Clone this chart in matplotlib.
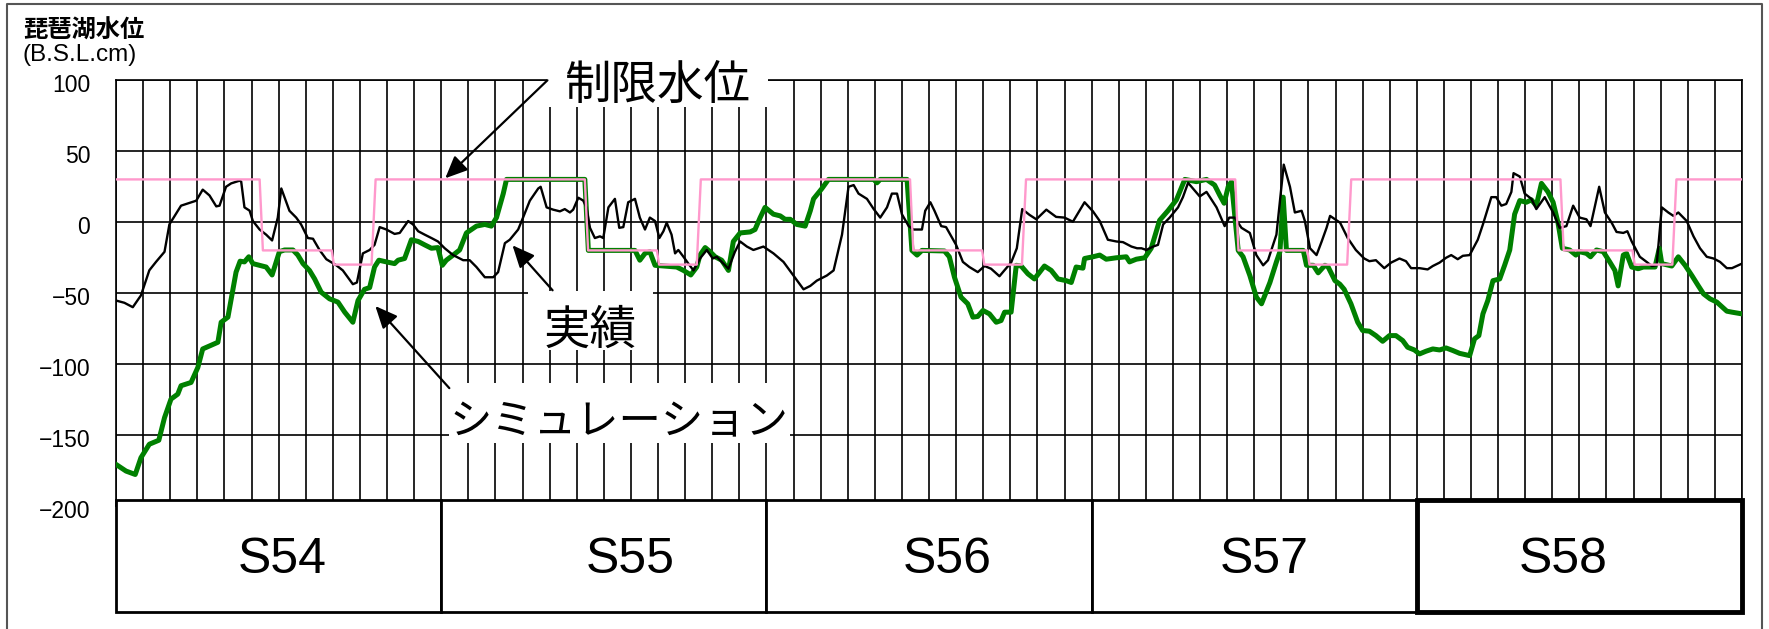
import matplotlib
matplotlib.use("Agg")
import matplotlib.pyplot as plt
from matplotlib.patches import Rectangle
from matplotlib.lines import Line2D
from matplotlib.transforms import ScaledTranslation

# months counted from Jan S54 (0) to Dec S58 (60), level in B.S.L. cm
actual_months = [
    0.00, 0.31, 0.62, 0.92, 1.23, 1.48, 1.79, 1.97, 2.40, 2.96, 3.20, 3.45, 3.70, 3.82,
    4.06, 4.25, 4.56, 4.62, 4.74, 4.93, 5.05, 5.30, 5.54, 5.76, 5.97, 6.10, 6.40, 6.65,
    6.83, 7.08, 7.27, 7.51, 7.76, 8.13, 8.37, 8.74, 8.89, 9.11, 9.36, 9.54, 9.73, 9.98,
    10.28, 10.47, 10.78, 10.96, 11.15, 11.39, 11.64, 11.88,
    12.13, 12.44, 12.81, 13.05, 13.30, 13.61, 13.92, 14.10, 14.35, 14.53, 14.84, 15.02,
    15.27, 15.58, 15.67, 15.89, 16.13, 16.38, 16.56, 16.75, 16.87, 17.06, 17.24, 17.36,
    17.49, 17.67, 17.86, 17.98, 18.17, 18.41, 18.57, 18.72, 18.90, 19.15, 19.33, 19.52,
    19.70, 19.89, 20.05, 20.20, 20.32, 20.50, 20.63, 20.75, 20.94, 21.12, 21.31, 21.55,
    21.80, 22.02, 22.17, 22.35, 22.60, 22.84, 23.03, 23.28, 23.52, 23.89,
    24.26, 24.63, 25.00, 25.37, 25.62, 25.86, 26.23, 26.48, 26.79, 27.03, 27.22, 27.40,
    27.71, 27.96, 28.20, 28.45, 28.63, 28.82, 29.00, 29.25, 29.43, 29.74, 29.86, 30.05,
    30.20, 30.45, 30.63, 31.00, 31.25, 31.49, 31.80, 32.05, 32.29, 32.60, 32.78, 33.03,
    33.24, 33.44, 33.71, 33.96, 34.33, 34.69, 35.00, 35.31, 35.74,
    36.05, 36.30, 36.60, 36.91, 37.16, 37.47, 37.68, 37.84, 38.02, 38.27, 38.45, 38.64,
    38.88, 39.19, 39.37, 39.56, 39.99, 40.24, 40.61, 40.91, 41.08, 41.28, 41.53, 41.84,
    42.08, 42.33, 42.51, 42.82, 43.09, 43.32, 43.50, 43.75, 43.87, 44.06, 44.30, 44.49,
    44.67, 44.80, 45.17, 45.45, 45.75,
    46.06, 46.25, 46.49, 46.80, 47.05, 47.36, 47.60, 47.79, 48.10, 48.40, 48.59, 48.84,
    49.08, 49.27, 49.51, 49.70, 49.95, 50.25, 50.44, 50.75, 50.93, 51.12, 51.30, 51.49,
    51.57, 51.80, 51.98, 52.23, 52.41, 52.72, 53.03, 53.27, 53.52, 53.77, 54.01, 54.26,
    54.41, 54.73, 54.94, 55.19, 55.37, 55.62, 55.77, 55.93, 56.23, 56.48, 56.67, 56.85,
    57.04, 57.28, 57.47, 57.65, 57.96, 58.21, 58.45, 58.70, 58.95, 59.19, 59.44, 59.63,
    60.00,
]
actual_levels = [
    -55.3, -56.9, -60.0, -51.7, -34.0, -28.0, -21.0, -1.7, 11.5, 15.0, 22.8, 18.7, 11.0, 11.5,
    24.8, 27.2, 29.1, 28.4, 10.3, 8.0, 0.7, -5.3, -8.9, -13.0, 3.1, 23.6, 7.9, 3.1,
    -1.7, -11.3, -11.8, -19.7, -26.2, -30.5, -34.1, -43.8, -42.6, -22.1, -19.7, -16.1, -3.6, -5.3,
    -8.4, -7.7, 0.7, -1.7, -6.5, -8.9, -11.3, -13.7,
    -18.5, -23.3, -26.9, -26.9, -31.7, -38.9, -38.9, -35.3, -14.9, -12.5, -5.3, 3.1,
    15.0, 23.6, 24.8, 10.3, 8.7, 7.5, 9.1, 6.7, 8.7, 17.1, 15.1, 10.3,
    -4.1, -11.3, -10.1, -11.3, 10.3, 16.3, -4.1, -3.6, 13.9, 16.3, 3.1, -5.3,
    3.1, 0.7, -11.3, -6.5, -0.5, -8.9, -22.1, -19.7, -24.5, -29.3, -34.1, -25.7,
    -19.7, -25.7, -24.5, -28.1, -32.9, -20.9, -13.7, -17.3, -19.7, -17.3,
    -22.1, -28.1, -37.7, -47.4, -45.0, -41.3, -37.7, -34.1, -8.9, 24.8, 26.0, 20.0,
    16.3, 9.1, 3.1, 10.3, 20.0, 20.0, 5.5, -2.9, -5.3, -5.3, 7.9, 13.9,
    8.0, -2.9, -3.6, -16.1, -28.1, -31.7, -35.3, -31.0, -32.9, -38.2, -34.1, -28.6,
    -18.5, 9.1, 5.0, 1.9, 8.7, 3.6, 3.1, 0.2, 13.9,
    7.5, 0.7, -12.5, -13.7, -14.2, -17.3, -18.5, -18.5, -19.7, -17.3, -16.1, -1.7,
    3.1, 10.3, 17.5, 27.6, 18.0, 21.2, 10.3, -2.9, 3.1, 3.1, -4.1, -7.7,
    -23.3, -30.5, -26.9, -8.9, 40.4, 24.8, 6.7, 7.9, 0.7, -18.5, -23.3, -13.7,
    -4.1, 4.3, -0.5, -11.3, -19.7,
    -25.7, -27.6, -26.9, -32.5, -28.6, -25.7, -27.6, -32.5, -32.5, -33.4, -31.0, -28.6,
    -25.2, -23.3, -26.2, -23.8, -23.3, -12.5, -1.7, 17.5, 17.5, 11.5, 12.7, 21.2,
    34.4, 32.0, 20.0, 16.3, 9.1, 17.5, 6.7, -4.1, -2.9, 11.5, 3.1, 1.9,
    -2.9, 24.8, 6.7, -0.5, -7.0, -7.7, -6.5, -13.7, -24.5, -28.1, -31.0, -30.5,
    10.3, 6.7, 4.3, 6.7, 0.7, -10.1, -18.5, -24.5, -25.7, -28.1, -32.5, -32.5,
    -29.3,
]

sim_months = [
    0.00, 0.37, 0.71, 0.92, 1.23, 1.58, 1.79, 2.03, 2.28, 2.40, 2.77, 3.02, 3.20, 3.76,
    3.88, 4.13, 4.31, 4.43, 4.58, 4.74, 4.90, 5.05, 5.30, 5.54, 5.76, 6.03, 6.22, 6.53,
    6.71, 6.90, 7.14, 7.33, 7.57, 7.88, 8.19, 8.44, 8.74, 8.93, 9.17, 9.36, 9.54, 9.70,
    9.98, 10.28, 10.41, 10.65, 10.90, 11.15, 11.39, 11.64, 11.88,
    12.04, 12.19, 12.44, 12.68, 12.93, 13.30, 13.61, 13.85, 14.04, 14.29, 14.41, 17.30,
    17.43, 19.15, 19.33, 19.52, 19.70, 19.89, 20.69, 20.94, 21.21, 21.43, 21.55, 21.74,
    21.92, 22.11, 22.35, 22.60, 22.78, 23.03, 23.40, 23.58, 23.77, 23.95,
    24.26, 24.51, 24.69, 24.88, 25.12, 25.43, 25.62, 25.74, 26.05, 26.29, 27.96, 28.08,
    28.20, 29.19, 29.37, 29.56, 29.74, 30.57, 30.75, 30.94, 31.18, 31.43, 31.62, 31.80,
    31.99, 32.23, 32.48, 32.66, 32.79, 33.03, 33.22, 33.40, 33.65, 33.89, 34.26, 34.51,
    34.76, 35.06, 35.25, 35.43, 35.68, 35.74,
    36.05, 36.30, 36.54, 36.91, 37.28, 37.40, 37.65, 37.96, 38.20, 38.51, 38.82, 39.13,
    39.44, 39.87, 40.24, 40.54, 40.73, 40.89, 41.04, 41.16, 41.41, 41.59, 41.84, 42.08,
    42.27, 42.58, 42.82, 42.95, 43.07, 43.19, 43.81, 43.93, 44.18, 44.36, 44.61, 44.73,
    44.98, 45.16, 45.32, 45.57, 45.82,
    46.00, 46.25, 46.49, 46.74, 46.99, 47.23, 47.48, 47.66, 47.91, 48.10, 48.34, 48.59,
    48.84, 49.08, 49.33, 49.58, 49.95, 50.13, 50.29, 50.44, 50.62, 50.81, 51.06, 51.24,
    51.43, 51.61, 51.80, 52.04, 52.23, 52.41, 52.60, 52.84, 53.03, 53.21, 53.37, 53.64,
    53.87, 54.01, 54.26, 54.41, 54.63, 54.88, 55.12, 55.31, 55.43, 55.62, 55.74, 55.93,
    56.17, 56.36, 56.60, 56.79, 56.95, 57.04, 57.41, 57.65, 57.90, 58.15, 58.39, 58.58,
    58.82, 59.07, 59.44, 59.63, 60.00,
]
sim_levels = [
    -170.7, -175.4, -177.8, -166.0, -156.5, -153.7, -137.8, -124.7, -121.2, -115.3, -113.0, -102.4, -89.4, -84.7,
    -70.6, -67.0, -48.2, -35.3, -27.6, -28.1, -24.5, -29.3, -30.5, -31.7, -37.3, -20.9, -19.7, -19.7,
    -23.3, -29.3, -34.1, -40.1, -49.4, -54.1, -56.4, -63.5, -70.6, -55.3, -47.4, -46.2, -31.7, -26.9,
    -28.1, -29.3, -26.9, -25.7, -12.5, -13.7, -16.1, -18.5, -18.0,
    -30.5, -26.9, -23.3, -19.7, -7.7, -2.9, -1.7, -2.9, 3.1, 20.0, 30.0, 30.0,
    -20.0, -20.0, -26.9, -22.1, -20.9, -30.5, -31.7, -34.1, -37.3, -31.7, -23.3, -18.0,
    -20.9, -24.5, -26.9, -34.1, -13.7, -7.7, -7.0, -5.3, 3.1, 10.3,
    5.5, 4.3, 1.9, 1.9, -1.7, -2.9, 7.9, 16.3, 23.6, 30.0, 30.0, 27.6,
    30.0, 30.0, -20.0, -23.3, -20.0, -20.4, -24.5, -38.9, -52.9, -57.6, -67.0, -66.5,
    -62.3, -64.7, -70.6, -69.4, -63.5, -63.5, -30.5, -31.0, -36.5, -40.1, -31.0, -34.1,
    -40.1, -41.3, -42.6, -31.7, -32.5, -25.7,
    -24.5, -23.3, -26.2, -25.2, -24.5, -28.1, -26.2, -25.2, -18.5, 1.2, 8.0, 15.6,
    30.0, 28.4, 30.0, 26.0, 18.8, 13.2, 24.8, 28.4, -20.0, -24.5, -37.7, -52.9,
    -57.6, -42.6, -28.1, -20.9, 17.5, -20.0, -20.0, -30.5, -30.5, -35.8, -30.5, -31.7,
    -41.3, -43.8, -47.4, -57.6, -70.6,
    -76.4, -76.9, -80.0, -84.0, -80.0, -80.0, -83.5, -88.2, -90.1, -92.9, -91.0, -89.4,
    -90.1, -88.7, -90.5, -92.5, -94.1, -82.3, -80.0, -64.7, -55.3, -41.3, -40.1, -30.5,
    -19.7, 5.5, 15.1, 13.9, 15.6, 11.5, 27.2, 21.2, 13.9, -0.5, -18.5, -19.7,
    -23.3, -20.9, -22.1, -24.5, -19.7, -20.9, -28.1, -34.1, -45.0, -23.3, -22.1, -31.7,
    -32.9, -31.7, -31.7, -31.7, -18.5, -29.3, -31.0, -24.5, -30.5, -37.7, -45.0, -50.6,
    -54.1, -56.4, -62.8, -63.5, -64.7,
]

limit_months = [
    0.00, 5.30, 5.42, 7.96, 8.04, 9.43, 9.58,
    17.30, 17.42, 19.96, 20.04, 21.43, 21.58,
    29.30, 29.42, 31.96, 32.04, 33.43, 33.58,
    41.30, 41.42, 43.96, 44.04, 45.43, 45.58,
    53.30, 53.42, 55.96, 56.04, 57.43, 57.58, 60.00,
]
limit_levels = [
    30, 30, -20, -20, -30, -30, 30,
    30, -20, -20, -30, -30, 30,
    30, -20, -20, -30, -30, 30,
    30, -20, -20, -30, -30, 30,
    30, -20, -20, -30, -30, 30, 30,
]

years = ["S54", "S55", "S56", "S57", "S58"]
year_starts = [0, 12, 24, 36, 48]
year_label_x = [6.13, 18.97, 30.66, 42.37, 53.39]

plt.rcParams["font.family"] = ["Liberation Sans", "Noto Sans CJK JP", "DejaVu Sans"]

W, H = 1769, 629
fig = plt.figure(figsize=(W / 100, H / 100), dpi=100)

# outer frame: left, top, right (no bottom edge)
frame_x = [7 / W, 7 / W, 1762 / W, 1762 / W]
frame_y = [0, 1 - 4 / H, 1 - 4 / H, 0]
fig.add_artist(Line2D(frame_x, frame_y, transform=fig.transFigure, color="#555555", lw=1.5))

ax = fig.add_axes([116 / W, 1 - 506 / H, (1742 - 116) / W, (506 - 80) / H])
ax.set_xlim(0, 60)
ax.set_ylim(-200, 100)
ax.set_xticks(range(0, 61))
ax.set_yticks(range(-200, 101, 50))
ax.set_axisbelow(True)
ax.grid(True, color="black", lw=1.2)
ax.tick_params(axis="x", length=0, labelbottom=False)
ax.tick_params(axis="y", length=0, pad=18.5, labelsize=16.5)
for sp in ax.spines.values():
    sp.set_color("black")
    sp.set_linewidth(1.2)
offset = ScaledTranslation(0, -3 / 100, fig.dpi_scale_trans)
for lbl in ax.get_yticklabels():
    lbl.set_transform(lbl.get_transform() + offset)

ax.plot(sim_months, sim_levels, color="#008000", lw=3.6, zorder=3, solid_joinstyle="round")
ax.plot(actual_months, actual_levels, color="black", lw=1.7, zorder=4)
ax.plot(limit_months, limit_levels, color="#ff99cc", lw=1.7, zorder=5)

# white boxes behind the callout labels
for x0, x1, y0, y1 in [(15.92, 24.05, 80.8, 118), (15.22, 19.80, -90.3, -48.6), (12.30, 24.86, -155.8, -113.6)]:
    ax.add_patch(Rectangle((x0, y0), x1 - x0, y1 - y0, fc="white", ec="none", zorder=6, clip_on=False))

ax.text(19.97, 86.4, "制限水位", ha="center", va="baseline", fontsize=33.5, zorder=7, clip_on=False)
ax.text(17.51, -86.1, "実績", ha="center", va="baseline", fontsize=33.5, zorder=7)
ax.text(18.56, -149.5, "シミュレーション", ha="center", va="baseline", fontsize=30.5, zorder=7)

arrow = dict(arrowstyle="-|>,head_length=0.45,head_width=0.2", mutation_scale=30, lw=1.6,
             color="black", shrinkA=0, shrinkB=0)
ax.annotate("", xy=(12.15, 30.8), xytext=(15.92, 99.8), arrowprops=arrow, zorder=8, annotation_clip=False)
ax.annotate("", xy=(14.63, -16.4), xytext=(16.11, -48.1), arrowprops=arrow, zorder=8)
ax.annotate("", xy=(9.57, -59.2), xytext=(12.30, -117.0), arrowprops=arrow, zorder=8)

fig.text(23 / W, 1 - 31 / H, "琵琶湖水位", fontsize=17.5, fontweight="bold", va="center", ha="left")
fig.text(22 / W, 1 - 55 / H, "(B.S.L.cm)", fontsize=17.5, va="center", ha="left")

# year boxes under the plot
ax_yr = fig.add_axes([116 / W, 1 - 612 / H, (1742 - 116) / W, 112 / H])
ax_yr.set_zorder(2)
ax_yr.set_xlim(0, 60)
ax_yr.set_ylim(0, 1)
ax_yr.axis("off")
for name, start, lx in zip(years, year_starts, year_label_x):
    lw = 3.5 if name == "S58" else 2.0
    ax_yr.add_patch(Rectangle((start, 0), 12, 1, fc="white", ec="black", lw=lw, clip_on=False))
    ax_yr.text(lx, 0.46, name, ha="center", va="center", fontsize=36)

fig.savefig("out.png", dpi=100)
